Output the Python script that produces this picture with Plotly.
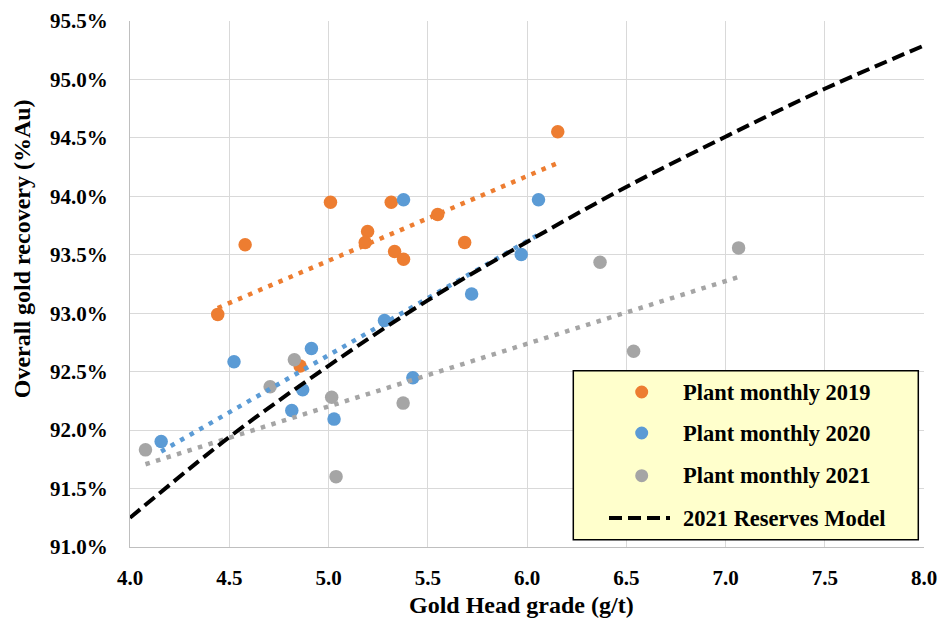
import plotly.graph_objects as go

# ---- data ----
grade_2019 = [6.155, 5.010, 5.316, 5.550, 5.197, 5.185, 4.580, 5.686, 5.333, 5.378, 4.442, 4.857]
rec_2019 = [94.553, 93.950, 93.950, 93.845, 93.700, 93.605, 93.585, 93.605, 93.528, 93.462, 92.990, 92.548]

grade_2020 = [5.378, 6.058, 5.971, 5.721, 5.282, 4.914, 4.524, 5.425, 4.870, 4.815, 5.028, 4.157]
rec_2020 = [93.970, 93.970, 93.502, 93.165, 92.937, 92.699, 92.585, 92.448, 92.345, 92.168, 92.094, 91.902]

grade_2021 = [7.066, 6.368, 6.537, 4.828, 4.706, 5.016, 5.376, 4.078, 5.038]
rec_2021 = [93.559, 93.436, 92.674, 92.602, 92.371, 92.282, 92.231, 91.831, 91.602]

# linear trendline end points (as drawn)
trend_2019_x = [4.442, 6.155]
trend_2019_y = [93.045, 94.285]
trend_2020_x = [4.157, 6.058]
trend_2020_y = [91.817, 93.673]
trend_2021_x = [4.078, 7.066]
trend_2021_y = [91.708, 93.310]

# 2021 reserves model curve
model_x = [4.0, 4.5, 5.0, 5.5, 6.0, 6.5, 7.0, 7.5, 8.0]
model_y = [91.25, 91.94, 92.55, 93.11, 93.61, 94.08, 94.51, 94.92, 95.29]

x_ticks = [4.0, 4.5, 5.0, 5.5, 6.0, 6.5, 7.0, 7.5, 8.0]
x_tick_text = ["4.0", "4.5", "5.0", "5.5", "6.0", "6.5", "7.0", "7.5", "8.0"]
y_ticks = [91.0, 91.5, 92.0, 92.5, 93.0, 93.5, 94.0, 94.5, 95.0, 95.5]
y_tick_text = ["91.0%", "91.5%", "92.0%", "92.5%", "93.0%", "93.5%", "94.0%", "94.5%", "95.0%", "95.5%"]

series_names = ["Plant monthly 2019", "Plant monthly 2020", "Plant monthly 2021", "2021 Reserves Model"]
x_title = "Gold Head grade (g/t)"
y_title = "Overall gold recovery (%Au)"

ORANGE = "#ED7D31"
BLUE = "#5B9BD5"
GRAY = "#A5A5A5"
FONT = "Liberation Serif, Times New Roman, serif"

fig = go.Figure()

for gx, ry, col, name in [(grade_2019, rec_2019, ORANGE, series_names[0]),
                          (grade_2020, rec_2020, BLUE, series_names[1]),
                          (grade_2021, rec_2021, GRAY, series_names[2])]:
    fig.add_trace(go.Scatter(x=gx, y=ry, mode="markers", name=name,
                             marker=dict(size=13.5, color=col, line=dict(width=0)),
                             showlegend=False))

for tx, ty, col in [(trend_2019_x, trend_2019_y, ORANGE),
                    (trend_2020_x, trend_2020_y, BLUE),
                    (trend_2021_x, trend_2021_y, GRAY)]:
    fig.add_trace(go.Scatter(x=tx, y=ty, mode="lines", showlegend=False, hoverinfo="skip",
                             line=dict(color=col, width=4.5, dash="4.5px,6.5px")))

fig.add_trace(go.Scatter(x=model_x, y=model_y, mode="lines", name=series_names[3],
                         line=dict(color="black", width=4, dash="13px,6px", shape="spline"),
                         showlegend=False))

# ---- manual legend box (positions in plot-area pixels) ----
L, R, T, B = 130, 924, 21.3, 547.3
W, H = R - L, B - T


def px(xp):
    return (xp - L) / W


def py(yp):
    return (B - yp) / H


shapes = [dict(type="rect", xref="paper", yref="paper", layer="above",
               x0=px(573.3), x1=px(918.3), y0=py(540), y1=py(371),
               fillcolor="#FFFFCC", line=dict(color="black", width=1.5))]
annotations = []
rows = [392.3, 433.3, 476.0, 518.3]
for i, (col, name) in enumerate(zip([ORANGE, BLUE, GRAY, None], series_names)):
    yc = py(rows[i])
    if col:
        shapes.append(dict(type="circle", xref="paper", yref="paper", layer="above",
                           xsizemode="pixel", ysizemode="pixel",
                           xanchor=px(641.7), yanchor=yc, x0=-6.5, x1=6.5, y0=-6.5, y1=6.5,
                           fillcolor=col, line=dict(width=0)))
    else:
        shapes.append(dict(type="line", xref="paper", yref="paper", layer="above",
                           x0=px(609), x1=px(670), y0=yc, y1=yc,
                           line=dict(color="black", width=4, dash="13px,6px")))
    annotations.append(dict(text="<b>" + name + "</b>", xref="paper", yref="paper", x=px(681), y=yc,
                            xanchor="left", yanchor="middle", showarrow=False,
                            font=dict(family=FONT, size=22.5, color="black")))

annotations.append(dict(text="<b>" + y_title + "</b>", xref="paper", yref="paper",
                        x=px(22), y=py(249.5), textangle=-90, xanchor="center", yanchor="middle",
                        showarrow=False,
                        font=dict(family=FONT, size=24, color="black")))
annotations.append(dict(text="<b>" + x_title + "</b>", xref="paper", yref="paper",
                        x=px(521), y=py(605), xanchor="center", yanchor="middle",
                        showarrow=False,
                        font=dict(family=FONT, size=24, color="black")))

fig.update_layout(
    width=940, height=621,
    margin=dict(l=130, r=16, t=21, b=74, autoexpand=False),
    paper_bgcolor="white", plot_bgcolor="white",
    font=dict(family=FONT, color="black"),
    shapes=shapes, annotations=annotations,
    showlegend=False,
)

fig.update_xaxes(range=[4.0, 8.0], tickmode="array", tickvals=x_ticks,
                 ticktext=["<b>" + t + "</b>" for t in x_tick_text],
                 showgrid=True, gridcolor="#D9D9D9", gridwidth=1.3,
                 showline=True, linecolor="#BFBFBF", linewidth=1.3,
                 zeroline=False, ticks="", ticklabelstandoff=12, automargin=False,
                 tickfont=dict(family=FONT, size=21, color="black"))

fig.update_yaxes(range=[91.0, 95.5], tickmode="array", tickvals=y_ticks,
                 ticktext=["<b>" + t + "</b>" for t in y_tick_text],
                 showgrid=True, gridcolor="#D9D9D9", gridwidth=1.3,
                 showline=True, linecolor="#BFBFBF", linewidth=1.3,
                 zeroline=False, ticks="", ticklabelstandoff=17, automargin=False,
                 tickfont=dict(family=FONT, size=21, color="black"))

fig.write_html("out.html", config={"displayModeBar": False},
               post_script="document.body.style.margin='0';document.body.style.overflow='hidden';")
